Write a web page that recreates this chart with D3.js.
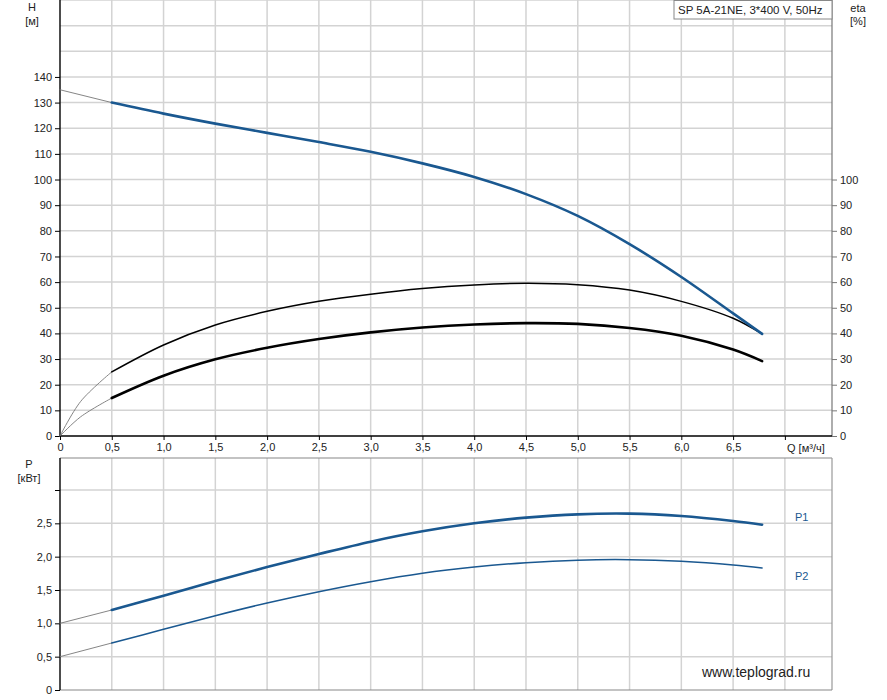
<!DOCTYPE html>
<html><head><meta charset="utf-8">
<script src="https://cdn.jsdelivr.net/npm/d3@7"></script>
<style>
html,body{margin:0;padding:0;background:#fff;}
svg{display:block;font-family:"Liberation Sans",Arial,sans-serif;}
</style></head>
<body>
<svg id="chart" width="887" height="700"></svg>
<script>
// ---- data ----
const qPoints   = [0.5, 1.0, 1.5, 2.0, 2.5, 3.0, 3.5, 4.0, 4.5, 5.0, 5.5, 6.0, 6.5, 6.78];
const headH     = [130, 125.7, 121.8, 118.2, 114.6, 110.8, 106.3, 101.0, 94.3, 85.8, 74.8, 62.0, 47.8, 39.8];
const etaPump   = [25, 35.5, 43.3, 48.6, 52.5, 55.3, 57.5, 58.9, 59.6, 59.0, 56.9, 52.5, 45.9, 39.8];
const etaTotal  = [14.8, 23.5, 29.9, 34.4, 37.8, 40.4, 42.3, 43.5, 44.0, 43.7, 42.1, 39.1, 33.7, 29.2];
const powerP1   = [1.20, 1.415, 1.635, 1.845, 2.04, 2.225, 2.38, 2.50, 2.585, 2.635, 2.645, 2.61, 2.535, 2.48];
const powerP2   = [0.705, 0.91, 1.115, 1.305, 1.475, 1.625, 1.752, 1.845, 1.91, 1.948, 1.955, 1.93, 1.875, 1.83];
// thin extensions toward Q = 0
const extQ      = [0, 0.5];
const extH      = [135, 130];
const extP1     = [1.0, 1.2];
const extP2     = [0.5, 0.705];
const extEtaQ   = [0, 0.2, 0.5];
const extEtaPump  = [0, 13.5, 25];
const extEtaTotal = [0, 7.5, 14.8];
// ticks
const qTicks    = [0, 0.5, 1.0, 1.5, 2.0, 2.5, 3.0, 3.5, 4.0, 4.5, 5.0, 5.5, 6.0, 6.5, 7.0];
const hTicks    = [0, 10, 20, 30, 40, 50, 60, 70, 80, 90, 100, 110, 120, 130, 140];
const hGrid     = [10, 20, 30, 40, 50, 60, 70, 80, 90, 100, 110, 120, 130, 140, 150, 160, 170];
const etaTicks  = [0, 10, 20, 30, 40, 50, 60, 70, 80, 90, 100];
const pTicks    = [0, 0.5, 1.0, 1.5, 2.0, 2.5, 3.0];
const pLabelled = [0, 0.5, 1.0, 1.5, 2.0, 2.5];
const titleText = "SP 5A-21NE, 3*400 V, 50Hz";

// ---- layout ----
const svg = d3.select("#chart");
const X0 = 60, X1 = 832, TOP0 = 0, TOP1 = 436, BOT0 = 458, BOT1 = 690;
const x  = d3.scaleLinear().domain([0, 7.455]).range([X0, X1]);
const yH = d3.scaleLinear().domain([0, 170]).range([TOP1, TOP0]);
const yE = d3.scaleLinear().domain([0, 170]).range([TOP1, TOP0]);
const yP = d3.scaleLinear().domain([0, 3.48]).range([BOT1, BOT0]);
const fmt = v => v === 0 ? "0" : d3.format(".1f")(v).replace(".", ",");
const BLUE = "#1a5890", GRID = "#d3d3d3", TXT = "#222";

// ---- grid ----
const g = svg.append("g");
g.selectAll(".vt").data(qTicks.slice(1)).join("line")
  .attr("x1", d => x(d)).attr("x2", d => x(d)).attr("y1", TOP0).attr("y2", TOP1)
  .attr("stroke", GRID).attr("stroke-width", 1.5);
g.selectAll(".ht").data(hGrid).join("line")
  .attr("x1", X0).attr("x2", X1).attr("y1", d => yH(d)).attr("y2", d => yH(d))
  .attr("stroke", GRID).attr("stroke-width", 1.5);
g.selectAll(".vb").data(qTicks.slice(1)).join("line")
  .attr("x1", d => x(d)).attr("x2", d => x(d)).attr("y1", BOT0).attr("y2", BOT1)
  .attr("stroke", GRID).attr("stroke-width", 1.5);
g.selectAll(".hb").data(pTicks.slice(1)).join("line")
  .attr("x1", X0).attr("x2", X1).attr("y1", d => yP(d)).attr("y2", d => yP(d))
  .attr("stroke", GRID).attr("stroke-width", 1.5);

// frames
svg.append("line").attr("x1", X1).attr("x2", X1).attr("y1", TOP0).attr("y2", TOP1).attr("stroke", "#777").attr("stroke-width", 1.2);
svg.append("line").attr("x1", X0).attr("x2", X1).attr("y1", BOT0).attr("y2", BOT0).attr("stroke", "#888").attr("stroke-width", 1.2);
svg.append("line").attr("x1", X1).attr("x2", X1).attr("y1", BOT0).attr("y2", BOT1).attr("stroke", "#999").attr("stroke-width", 1.2);
svg.append("line").attr("x1", X0).attr("x2", X1).attr("y1", BOT1).attr("y2", BOT1).attr("stroke", "#888").attr("stroke-width", 1.2);

// ---- axes ----
function styleAxis(sel, domainColor) {
  sel.selectAll("text").attr("fill", TXT).style("font-size", "11px").style("font-family", '"Liberation Sans",Arial,sans-serif');
  sel.selectAll(".tick line").attr("stroke", domainColor);
  sel.select(".domain").attr("stroke", domainColor).attr("stroke-width", 1.4);
}
const axL = svg.append("g").attr("transform", `translate(${X0},0)`)
  .call(d3.axisLeft(yH).tickValues(hTicks).tickFormat(d => d).tickSize(5).tickSizeOuter(0).tickPadding(3));
styleAxis(axL, "#000");
axL.select(".domain").attr("d", `M0,${TOP0}V${TOP1}`);

const axR = svg.append("g").attr("transform", `translate(${X1},0)`)
  .call(d3.axisRight(yE).tickValues(etaTicks).tickFormat(d => d).tickSize(5).tickSizeOuter(0).tickPadding(3));
styleAxis(axR, "#777");
axR.select(".domain").remove();

const axB = svg.append("g").attr("transform", `translate(0,${TOP1})`)
  .call(d3.axisBottom(x).tickValues(qTicks).tickFormat(d => d === 7.0 ? "" : fmt(d)).tickSize(4).tickSizeOuter(0).tickPadding(3));
styleAxis(axB, "#000");
axB.select(".domain").attr("d", `M${X0},0H${X1}`);

const axP = svg.append("g").attr("transform", `translate(${X0},0)`)
  .call(d3.axisLeft(yP).tickValues(pTicks).tickFormat(d => pLabelled.includes(d) ? fmt(d) : "").tickSize(5).tickSizeOuter(0).tickPadding(3));
styleAxis(axP, "#000");
axP.select(".domain").attr("d", `M0,${BOT0}V${BOT1}`);

// ---- curves ----
const lineH = d3.line().x(d => x(d[0])).y(d => yH(d[1])).curve(d3.curveCatmullRom.alpha(0.5));
const lineP = d3.line().x(d => x(d[0])).y(d => yP(d[1])).curve(d3.curveCatmullRom.alpha(0.5));
const zip = (a, b) => a.map((v, i) => [v, b[i]]);

function path(gen, pts, color, w) {
  svg.append("path").attr("d", gen(pts)).attr("fill", "none")
    .attr("stroke", color).attr("stroke-width", w).attr("stroke-linejoin", "round").attr("stroke-linecap", "round");
}
// extensions
path(lineH, zip(extQ, extH), "#777", 0.9);
path(lineH, zip(extEtaQ, extEtaPump), "#777", 0.9);
path(lineH, zip(extEtaQ, extEtaTotal), "#777", 0.9);
path(lineP, zip(extQ, extP1), "#777", 0.9);
path(lineP, zip(extQ, extP2), "#777", 0.9);
// main curves
path(lineH, zip(qPoints, etaPump), "#000", 1.5);
path(lineH, zip(qPoints, etaTotal), "#000", 2.6);
path(lineH, zip(qPoints, headH), BLUE, 2.6);
path(lineP, zip(qPoints, powerP1), BLUE, 2.6);
path(lineP, zip(qPoints, powerP2), BLUE, 1.5);

// ---- labels ----
const txt = (s, xx, yy, anchor, size, color) => svg.append("text").text(s).attr("x", xx).attr("y", yy)
  .attr("text-anchor", anchor || "start").attr("fill", color || TXT).style("font-size", (size || 11) + "px");
txt("H", 32, 11, "middle");
txt("[м]", 32, 25, "middle");
txt("eta", 858, 12, "middle");
txt("[%]", 858, 25, "middle");
txt("P", 29, 468, "middle");
txt("[кВт]", 29, 482, "middle");
txt("Q [м³/ч]", 787, 452, "start");
txt("P1", 795, 521, "start", 11, BLUE);
txt("P2", 795, 580, "start", 11, BLUE);
txt("www.teplograd.ru", 702, 677, "start", 14, "#222");

// title box
svg.append("rect").attr("x", 674).attr("y", 0.5).attr("width", 158).attr("height", 18.5)
  .attr("fill", "#fff").attr("stroke", "#888").attr("stroke-width", 1);
txt(titleText, 678, 14, "start", 11.5);
</script>
</body></html>
